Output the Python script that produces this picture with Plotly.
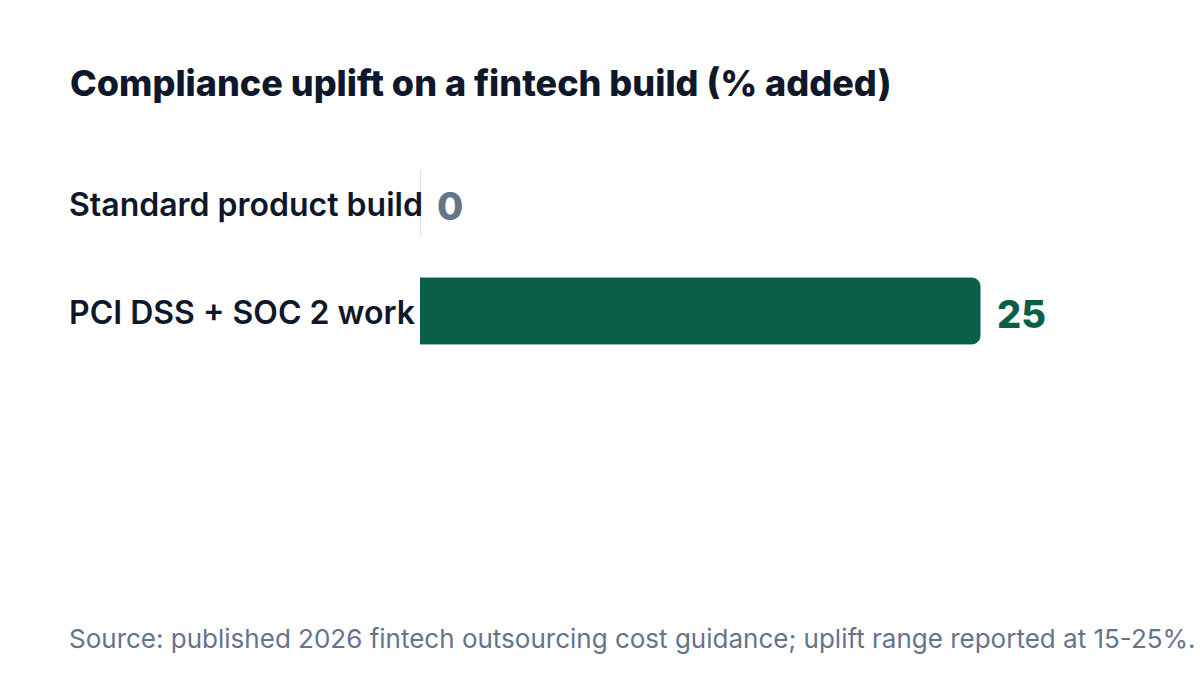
import plotly.graph_objects as go

# compliance uplift data
categories = ["Standard product build", "PCI DSS + SOC 2 work"]
uplift_pct = [0, 25]
bar_colors = ["#e2e8f0", "#0a5f49"]
line_colors = ["#cbd5e1", "#0a5f49"]
label_colors = ["#64748b", "#0a5f49"]

title = "Compliance uplift on a fintech build (% added)"
source = "Source: published 2026 fintech outsourcing cost guidance; uplift range reported at 15-25%."

W, H = 1200, 675
L, R, T, B = 420, 80, 149, 310
plot_w, plot_h = W - L - R, H - T - B
left_x = (67 - L) / plot_w  # annotations carry ~3px of padding

fig = go.Figure(go.Bar(
    x=uplift_pct, y=categories, orientation="h",
    marker=dict(color=bar_colors, line=dict(color=line_colors, width=1), cornerradius=8),
    hoverinfo="skip",
))

# category labels, left aligned with the title
for cat in categories:
    fig.add_annotation(x=left_x, xref="paper", y=cat, text=cat, showarrow=False,
                       xanchor="left", yshift=-1,
                       font=dict(family="Inter", size=32, color="#0f172a", weight=600))

# value labels just past the bar ends
for cat, val, col in zip(categories, uplift_pct, label_colors):
    fig.add_annotation(x=val, y=cat, text=str(val), showarrow=False,
                       xanchor="left", xshift=15, yshift=-3,
                       font=dict(family="Inter", size=38, color=col, weight=800))

fig.add_annotation(x=left_x, y=-(638 - (H - B)) / plot_h, xref="paper", yref="paper",
                   xanchor="left", yanchor="middle", text=source, showarrow=False,
                   font=dict(family="Inter", size=26, color="#64748b"))

fig.update_layout(
    width=W, height=H,
    paper_bgcolor="white", plot_bgcolor="white",
    margin=dict(l=L, r=R, t=T, b=B),
    title=dict(text=title, x=70 / W, xanchor="left", y=1 - 83 / H, yanchor="middle",
               font=dict(family="Inter", size=36, color="#0f172a", weight=800)),
    bargap=0.39,
    showlegend=False,
)
fig.update_xaxes(range=[0, 31.25], visible=False, fixedrange=True)
fig.update_yaxes(autorange="reversed", showgrid=False, zeroline=False, showline=False,
                 ticks="", showticklabels=False, fixedrange=True)

fig.write_html("out.html", config={"displayModeBar": False},
               post_script="document.body.style.margin='0';")
